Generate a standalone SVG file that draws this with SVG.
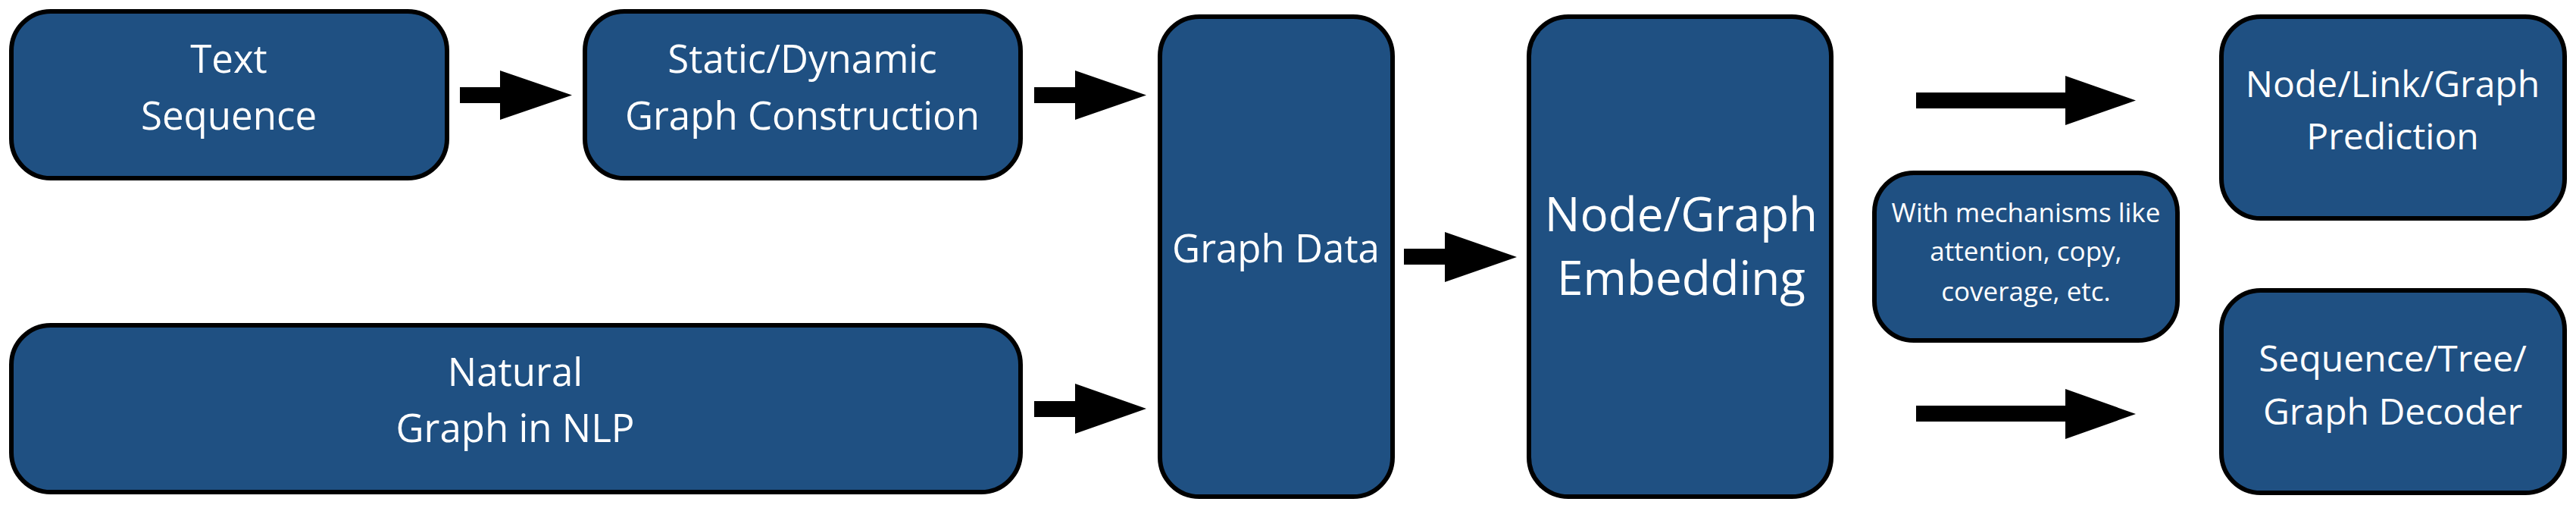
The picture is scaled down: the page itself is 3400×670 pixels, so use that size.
<svg xmlns="http://www.w3.org/2000/svg" width="3400" height="670" viewBox="0 0 3400 670">
<style>
.box{fill:#1F5082;stroke:#000;stroke-width:6}
.t{font-family:"Open Sans","Liberation Sans",sans-serif;fill:#fff;text-anchor:middle}
.l{font-size:51px}
.r{font-size:48px}
.big{font-size:62px}
.s{font-size:35px}
.arrow{fill:#000}
</style>
<rect width="3400" height="670" fill="#fff"/>
<g id="text-sequence">
<rect class="box" x="15" y="15" width="575" height="220" rx="52"/>
<text class="t l" x="302" y="96">Text</text>
<text class="t l" x="302" y="171">Sequence</text>
</g>
<g id="graph-construction">
<rect class="box" x="772" y="15" width="575" height="220" rx="52"/>
<text class="t l" x="1059" y="96">Static/Dynamic</text>
<text class="t l" x="1059" y="171">Graph Construction</text>
</g>
<g id="natural-graph">
<rect class="box" x="15" y="429" width="1332" height="220" rx="52"/>
<text class="t l" x="680" y="509">Natural</text>
<text class="t l" x="680" y="583">Graph in NLP</text>
</g>
<g id="graph-data">
<rect class="box" x="1531" y="22" width="307" height="633" rx="52"/>
<text class="t l" x="1684" y="346">Graph Data</text>
</g>
<g id="embedding">
<rect class="box" x="2018" y="22" width="399" height="633" rx="52"/>
<text class="t big" x="2219" y="305">Node/Graph</text>
<text class="t big" x="2219" y="389">Embedding</text>
</g>
<g id="mechanisms">
<rect class="box" x="2474" y="228" width="400" height="221" rx="52"/>
<text class="t s" x="2674" y="293">With mechanisms like</text>
<text class="t s" x="2674" y="344">attention, copy,</text>
<text class="t s" x="2674" y="397">coverage, etc.</text>
</g>
<g id="prediction">
<rect class="box" x="2932" y="22" width="453" height="266" rx="52"/>
<text class="t r" x="3158" y="128">Node/Link/Graph</text>
<text class="t r" x="3158" y="197">Prediction</text>
</g>
<g id="decoder">
<rect class="box" x="2932" y="383" width="453" height="267" rx="52"/>
<text class="t r" x="3158" y="490">Sequence/Tree/</text>
<text class="t r" x="3158" y="560">Graph Decoder</text>
</g>
<g id="connectors">
<polygon class="arrow" points="607,115 660,115 660,93 755,125.5 660,158 660,136 607,136"/>
<polygon class="arrow" points="1365,115 1419,115 1419,93 1513,125.5 1419,158 1419,136 1365,136"/>
<polygon class="arrow" points="1365,529 1419,529 1419,506 1513,539 1419,572 1419,550 1365,550"/>
<polygon class="arrow" points="1853,328 1907,328 1907,306 2002,339 1907,372 1907,349 1853,349"/>
<polygon class="arrow" points="2529,122 2726,122 2726,100 2819,132.5 2726,165 2726,143 2529,143"/>
<polygon class="arrow" points="2529,535 2726,535 2726,513 2819,546 2726,579 2726,556 2529,556"/>
</g>
</svg>
